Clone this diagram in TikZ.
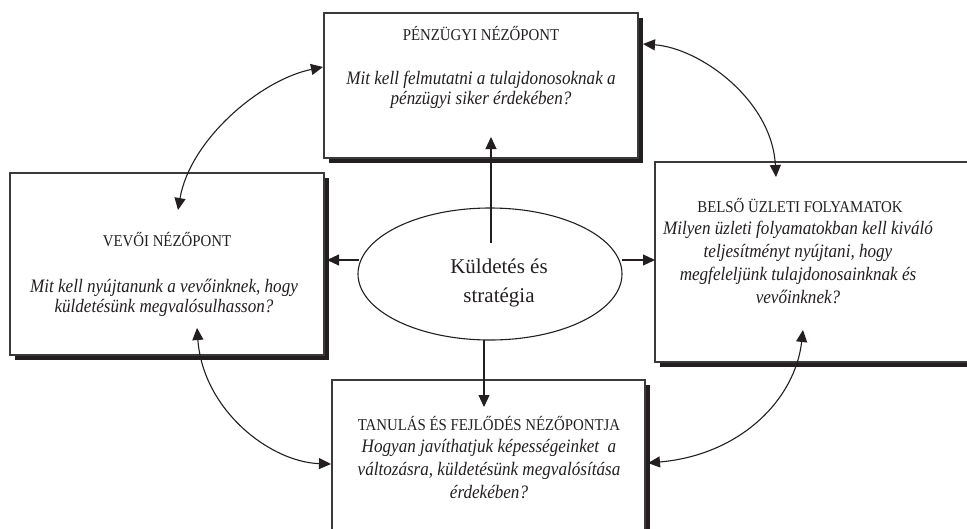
\documentclass[tikz,border=0pt]{standalone}
\usepackage{fontspec}
\setmainfont{Liberation Serif}[FakeStretch=0.9]
\newfontfamily\plainfont{Liberation Serif}
\usetikzlibrary{arrows.meta,shapes.geometric,shadows}
\definecolor{ink}{HTML}{231F20}
\definecolor{frame}{HTML}{3A3A3A}
\tikzset{
  panel/.style={draw=frame, line width=1.4pt, fill=white, inner sep=0pt,
    drop shadow={shadow xshift=5pt, shadow yshift=-5pt, fill=ink, opacity=1}},
  head/.style={inner sep=0pt, text=ink, font=\fontsize{16.5}{19}\selectfont},
  body/.style={inner sep=0pt, text=ink, align=center, font=\fontsize{19}{#1}\selectfont\itshape},
  body/.default=20,
  conn/.style={draw=ink, line width=1.1pt, -{Triangle[length=12pt,width=11pt]}},
  biconn/.style={draw=ink, line width=1.1pt, {Triangle[length=12pt,width=11pt]}-{Triangle[length=12pt,width=11pt]}}
}
\begin{document}
\begin{tikzpicture}[x=1pt,y=-1pt]
\useasboundingbox (0,0) rectangle (967,528);
\clip (0,0) rectangle (967,528);
% boxes
\node[panel, minimum width=314pt, minimum height=145pt] (fin) at (481,85.5) {};
\node[panel, minimum width=314pt, minimum height=182pt] (cust) at (167,264) {};
\node[panel, minimum width=320pt, minimum height=200pt] (proc) at (815,262) {};
\node[panel, minimum width=313pt, minimum height=160pt] (learn) at (488.5,460) {};
\node[draw=ink, line width=1.1pt, ellipse, minimum width=264pt, minimum height=132pt, inner sep=0pt] (ell) at (490,274) {};
% texts
\node[head] (finT) at (481,33) {PÉNZÜGYI NÉZŐPONT};
\node[body] (finB) at (481,90) {Mit kell felmutatni a tulajdonosoknak a\\pénzügyi siker érdekében?};
\node[head] (custT) at (167,240) {VEVŐI NÉZŐPONT};
\node[body] (custB) at (164,298) {Mit kell nyújtanunk a vevőinknek, hogy\\küldetésünk megvalósulhasson?};
\node[head] (procT) at (800,205) {BELSŐ ÜZLETI FOLYAMATOK};
\node[body=23] (procB) at (798,262.5) {Milyen üzleti folyamatokban kell kiváló\\teljesítményt nyújtani, hogy\\megfeleljünk tulajdonosainknak és\\vevőinknek?};
\node[head] (learnT) at (489,423) {TANULÁS ÉS FEJLŐDÉS NÉZŐPONTJA};
\node[body=23] (learnB) at (489,469) {Hogyan javíthatjuk képességeinket~ a\\változásra, küldetésünk megvalósítása\\érdekében?};
\node[inner sep=0pt, text=ink, align=center, font=\plainfont\fontsize{21}{29}\selectfont] (ellT) at (499,283) {Küldetés és\\stratégia};
% connector end points
\coordinate (upS) at (491,243);
\coordinate (upE) at (491,137);
\coordinate (dnS) at (484,340);
\coordinate (dnE) at (484,407);
\coordinate (lfS) at (359,260);
\coordinate (lfE) at (327,260);
\coordinate (rtS) at (622,260);
\coordinate (rtE) at (655,260);
\coordinate (c1a) at (178,210);
\coordinate (c1b) at (323,67);
\coordinate (c2a) at (643,44);
\coordinate (c2b) at (776,177);
\coordinate (c3a) at (197,328);
\coordinate (c3b) at (331,464);
\coordinate (c4a) at (803,330);
\coordinate (c4b) at (648,463);
% straight connectors
\draw[conn] (upS) -- (upE);
\draw[conn] (dnS) -- (dnE);
\draw[conn] (lfS) -- (lfE);
\draw[conn] (rtS) -- (rtE);
% curved connectors
\draw[biconn] (c1a) .. controls (190,140) and (260,80) .. (c1b);
\draw[biconn] (c2a) .. controls (700,48) and (772,100) .. (c2b);
\draw[biconn] (c3a) .. controls (203,410) and (270,462) .. (c3b);
\draw[biconn] (c4a) .. controls (795,400) and (740,455) .. (c4b);
\end{tikzpicture}
\end{document}
